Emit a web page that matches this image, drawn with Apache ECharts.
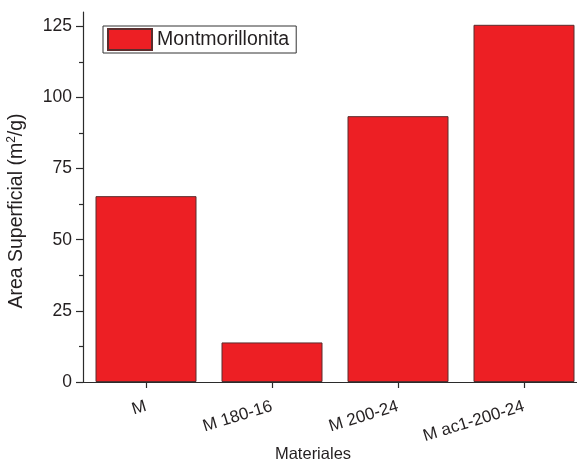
<!DOCTYPE html>
<html><head><meta charset="utf-8">
<script src="https://cdn.jsdelivr.net/npm/echarts@6/dist/echarts.min.js"></script>
<style>html,body{margin:0;padding:0;background:#fff}#c{width:577px;height:464px}</style>
</head><body><div id="c"></div>
<script>
const categories = ['M', 'M 180-16', 'M 200-24', 'M ac1-200-24'];
const seriesName = 'Montmorillonita';
const values = [65.3, 13.9, 93.4, 125.5];
const majorTicks = [0, 25, 50, 75, 100, 125];
const minorTicks = [12.5, 37.5, 62.5, 87.5, 112.5];

const FONT = '"Liberation Sans", Arial, sans-serif';
const TXT = '#231f20';
const AX = '#2b2b2b';
const chart = echarts.init(document.getElementById('c'), null, {renderer: 'canvas'});
chart.setOption({
  animation: false,
  backgroundColor: '#fff',
  textStyle: {fontFamily: FONT, color: TXT},
  grid: {left: 83, top: 12, width: 504, bottom: 82, containLabel: false, outerBoundsMode: 'none'},
  legend: {
    left: 103, top: 26, orient: 'horizontal', icon: 'rect',
    itemWidth: 44, itemHeight: 21, itemGap: 5,
    padding: [2, 7, 2, 4],
    borderColor: '#333', borderWidth: 1,
    textStyle: {fontFamily: FONT, fontSize: 19.5, color: TXT},
    data: [seriesName]
  },
  xAxis: [{
    type: 'category', data: categories, boundaryGap: true,
    axisLine: {show: true, lineStyle: {color: AX, width: 1.2}},
    axisTick: {show: true, alignWithLabel: true, length: 6, lineStyle: {color: AX, width: 1.2}},
    axisLabel: {rotate: 17, margin: 24, fontSize: 17, fontFamily: FONT, color: TXT, interval: 0},
    name: 'Materiales', nameLocation: 'middle', nameGap: 64, nameMoveOverlap: false,
    nameTextStyle: {fontSize: 16.5, fontFamily: FONT, color: TXT, padding: [0, 44, 0, 0]},
    splitLine: {show: false}
  }, {
    type: 'category', data: categories, position: 'top',
    axisLine: {show: true, lineStyle: {color: AX, width: 1.2}},
    axisTick: {show: false}, axisLabel: {show: false}, splitLine: {show: false}
  }],
  yAxis: [{
    type: 'value', min: 0, max: 130, interval: 25,
    axisLine: {show: true, lineStyle: {color: AX, width: 1.2}},
    axisTick: {show: true, length: 7, customValues: majorTicks, lineStyle: {color: AX, width: 1.2}},
    axisLabel: {margin: 11, fontSize: 17.5, fontFamily: FONT, color: TXT, customValues: majorTicks},
    splitLine: {show: false},
    name: 'Area Superficial (m{sup|2}/g)', nameLocation: 'middle', nameGap: 56, nameMoveOverlap: false,
    nameTextStyle: {
      fontSize: 19.5, fontFamily: FONT, color: TXT, padding: [0, 28, 0, 0],
      rich: {sup: {fontSize: 12, fontFamily: FONT, color: TXT, verticalAlign: 'top', padding: [0, 0, 9, 0]}}
    }
  }, {
    type: 'value', min: 0, max: 130, position: 'left',
    axisLine: {show: false},
    axisTick: {show: true, length: 4, customValues: minorTicks, lineStyle: {color: AX, width: 1.2}},
    axisLabel: {show: false}, splitLine: {show: false}
  }],
  series: [{
    name: seriesName, type: 'bar', data: values, barWidth: 101,
    xAxisIndex: 0, yAxisIndex: 0,
    itemStyle: {color: '#ED1F24', borderColor: '#5a2d2d', borderWidth: 1}
  }]
});
</script></body></html>
